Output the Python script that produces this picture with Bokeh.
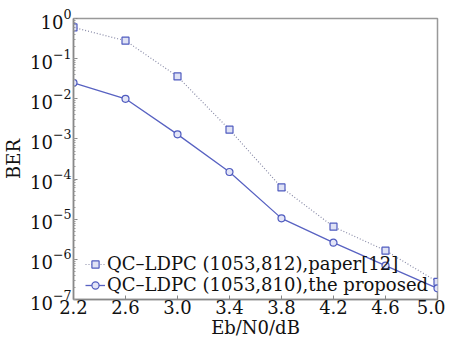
from bokeh.plotting import figure
from bokeh.models import FixedTicker, Legend, LegendItem, LogTicker, PrintfTickFormatter
from bokeh.embed import file_html
from bokeh.resources import INLINE

ebn0 = [2.2, 2.6, 3.0, 3.4, 3.8, 4.2, 4.6, 5.0]
ber_paper12 = [0.6, 0.28, 0.036, 1.7e-3, 6.2e-5, 6.5e-6, 1.65e-6, 2.75e-7]
ber_proposed = [0.025, 0.01, 1.3e-3, 1.5e-4, 1.05e-5, 2.6e-6, 7e-7, 1.9e-7]
x_ticks = [2.2, 2.6, 3.0, 3.4, 3.8, 4.2, 4.6, 5.0]
label_paper12 = "QC\u2013LDPC (1053,812),paper[12]"
label_proposed = "QC\u2013LDPC (1053,810),the proposed"

FONT = "DejaVu Serif"

p = figure(frame_width=364, frame_height=281, y_axis_type="log",
           x_range=(2.2, 5.0), y_range=(1e-7, 1.0),
           output_backend="svg", toolbar_location=None,
           min_border_left=10, min_border_right=8, min_border_top=18, min_border_bottom=0)

p.xgrid.visible = False
p.ygrid.visible = False
p.outline_line_color = "#999999"
p.outline_line_width = 1.5
p.background_fill_color = "white"
p.border_fill_color = "white"

r1l = p.line(ebn0, ber_paper12, line_color="#8a8ca8", line_width=1.2, line_dash="1 2")
r1m = p.scatter(ebn0, ber_paper12, marker="square", size=7, line_color="#4f5bbf",
                fill_color="#dfe2f5", line_width=1.2)
r2l = p.line(ebn0, ber_proposed, line_color="#5862c2", line_width=1.3)
r2m = p.scatter(ebn0, ber_proposed, marker="circle", size=7, line_color="#4f5bbf",
                fill_color="#e3e5f7", line_width=1.2)

p.xaxis.ticker = FixedTicker(ticks=x_ticks)
p.xaxis.formatter = PrintfTickFormatter(format="%.1f")
p.yaxis.ticker = LogTicker(desired_num_ticks=8, num_minor_ticks=10)

for ax in (p.xaxis[0], p.yaxis[0]):
    ax.major_label_text_font = FONT
    ax.major_label_text_font_size = "18px"
    ax.major_label_text_color = "#111111"
    ax.axis_label_text_font = FONT
    ax.axis_label_text_font_size = "18px"
    ax.axis_label_text_font_style = "normal"
    ax.axis_label_text_color = "#111111"
    ax.axis_line_color = "#888888"
    ax.axis_line_width = 1.5
    ax.major_tick_in = 4
    ax.major_tick_out = 0
    ax.minor_tick_in = 2
    ax.minor_tick_out = 0
    ax.major_tick_line_color = "#888888"
    ax.minor_tick_line_color = "#999999"

p.xaxis.minor_tick_line_color = None
p.xaxis.axis_label = "Eb/N0/dB"
p.yaxis.axis_label = "BER"
p.xaxis.major_label_standoff = 0
p.xaxis.axis_label_standoff = 0
p.yaxis.major_label_standoff = 2
p.yaxis.axis_label_standoff = 3

legend = Legend(items=[
    LegendItem(label=label_paper12, renderers=[r1l, r1m]),
    LegendItem(label=label_proposed, renderers=[r2l, r2m]),
], location=(12, 4))
legend.background_fill_alpha = 0
legend.border_line_color = None
legend.label_text_font = FONT
legend.label_text_font_size = "18px"
legend.label_text_color = "#111111"
legend.glyph_width = 20
legend.spacing = 0
legend.padding = 2
legend.margin = 0
legend.label_standoff = 2
legend.label_height = 18
legend.glyph_height = 18
p.add_layout(legend)

open("out.html", "w").write(file_html(p, INLINE))
